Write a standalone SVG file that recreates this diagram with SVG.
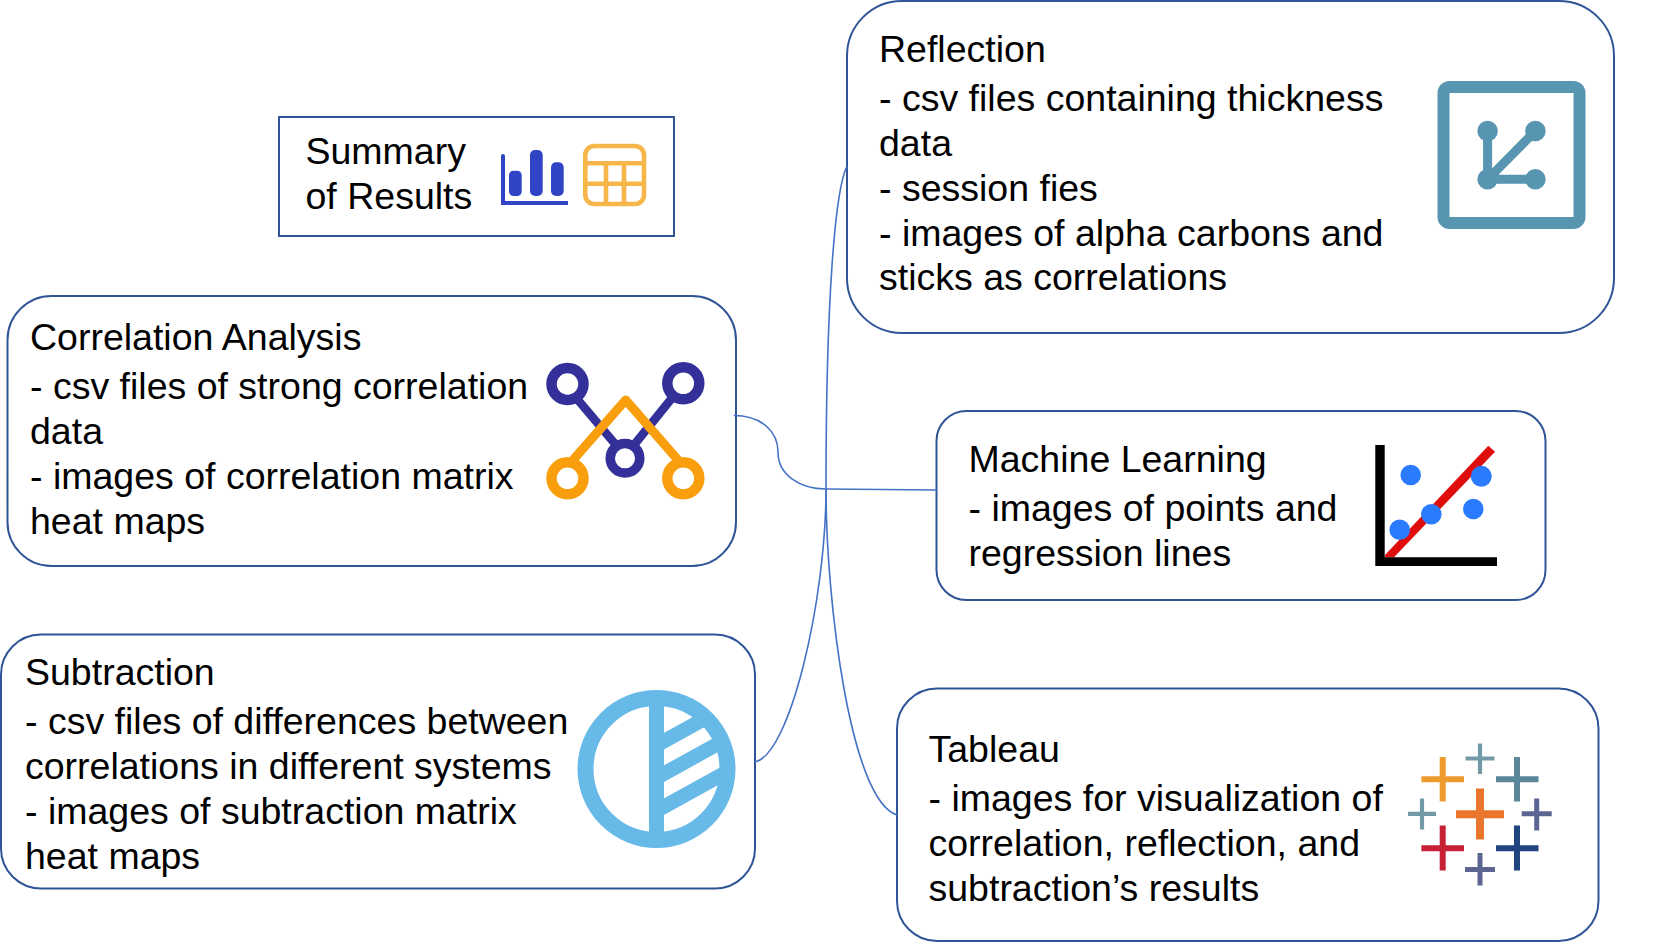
<svg xmlns="http://www.w3.org/2000/svg" width="1666" height="944" viewBox="0 0 1666 944">
<style>
.box{fill:#fff;stroke:#2F5597;stroke-width:2}
.t{font-family:"Liberation Sans",Arial,sans-serif;font-size:37.5px;fill:#000}
.c{fill:none;stroke:#4472C4;stroke-width:1.6}
.blue{fill:none;stroke:#343099}
.or{fill:none;stroke:#F99F0E}
</style>
<defs>
<clipPath id="sub"><circle cx="656.500" cy="769" r="72"/></clipPath>
</defs>
<rect width="1666" height="944" fill="#fff"/>
<g id="summary">
<rect class="box" x="279" y="117" width="395" height="119"/>
<text class="t" x="305.500" y="164">Summary</text>
<text class="t" x="305.500" y="209">of Results</text>
<g fill="#2F45C5">
<path d="M501 156a2 2 0 0 1 4 0V201H568V205H501Z"/>
<rect x="509" y="170.700" width="12.700" height="25.300" rx="4.500"/>
<rect x="530" y="150" width="12.700" height="46" rx="5"/>
<rect x="551" y="162.300" width="12.700" height="33.700" rx="5"/>
</g>
<g fill="none" stroke="#F7B64A" stroke-width="4.600">
<rect x="585.300" y="146" width="58.700" height="58" rx="9"/>
<path d="M585 163.300H644M585 183.700H644M606 163.300V204M624 163.300V204"/>
</g>
</g>
<g id="correlation">
<rect class="box" x="7.500" y="296" width="728.500" height="270" rx="44"/>
<text class="t" x="30" y="350">Correlation Analysis</text>
<text class="t" x="30" y="399">- csv files of strong correlation</text>
<text class="t" x="30" y="444">data</text>
<text class="t" x="30" y="489">- images of correlation matrix</text>
<text class="t" x="30" y="534">heat maps</text>
<path class="blue" stroke-width="8.500" d="M578 400L616 445M672 398L634 445"/>
<circle class="blue" stroke-width="10.500" cx="567.500" cy="384" r="16"/>
<circle class="blue" stroke-width="10.500" cx="683.300" cy="383.300" r="16"/>
<circle class="blue" stroke-width="9.500" cx="625" cy="458.300" r="14.800"/>
<path class="or" stroke-width="9" stroke-linejoin="round" d="M573 460L625.700 400L678 460"/>
<circle class="or" stroke-width="10.500" cx="567.500" cy="478.300" r="16"/>
<circle class="or" stroke-width="10.500" cx="683.300" cy="478.300" r="16"/>
</g>
<g id="subtraction">
<rect class="box" x="1" y="634.500" width="754" height="254" rx="40"/>
<text class="t" x="25" y="685">Subtraction</text>
<text class="t" x="25" y="734">- csv files of differences between</text>
<text class="t" x="25" y="779">correlations in different systems</text>
<text class="t" x="25" y="824">- images of subtraction matrix</text>
<text class="t" x="25" y="869">heat maps</text>
<circle cx="656.500" cy="769" r="71" fill="none" stroke="#67B9E8" stroke-width="16"/>
<rect x="649" y="695" width="15" height="150" fill="#67B9E8"/>
<g clip-path="url(#sub)" stroke="#67B9E8" stroke-width="14.500">
<path d="M660 743.300L735 702M660 775.800L735 734.500M660 808.800L735 767.500"/>
</g>
</g>
<g id="reflection">
<rect class="box" x="847" y="1" width="767" height="332" rx="55"/>
<text class="t" x="879" y="62">Reflection</text>
<text class="t" x="879" y="110.700">- csv files containing thickness</text>
<text class="t" x="879" y="155.500">data</text>
<text class="t" x="879" y="200.500">- session fies</text>
<text class="t" x="879" y="245.500">- images of alpha carbons and</text>
<text class="t" x="879" y="290">sticks as correlations</text>
<rect x="1443.500" y="87" width="136" height="136" rx="6" fill="none" stroke="#5895B0" stroke-width="12"/>
<path d="M1487.600 131V179.300H1535.400M1487.600 179.300L1535.400 131" fill="none" stroke="#5895B0" stroke-width="9"/>
<g fill="#5895B0">
<circle cx="1487.600" cy="131" r="10.300"/>
<circle cx="1535.400" cy="131" r="10.300"/>
<circle cx="1487.600" cy="179.300" r="10.300"/>
<circle cx="1535.400" cy="179.300" r="10.300"/>
</g>
</g>
<g id="machine-learning">
<rect class="box" x="936.500" y="411" width="609" height="189" rx="30"/>
<text class="t" x="968.500" y="472">Machine Learning</text>
<text class="t" x="968.500" y="521">- images of points and</text>
<text class="t" x="968.500" y="566">regression lines</text>
<path d="M1385 555L1488.300 445.700L1495 451.700L1394 557.300H1385Z" fill="#E00D0D"/>
<path d="M1375.300 445H1384.700V557.300H1497V566H1375.300Z" fill="#000"/>
<g fill="#2B7BFF">
<circle cx="1410.700" cy="475" r="10.300"/>
<circle cx="1481.300" cy="476.300" r="10.500"/>
<circle cx="1473.300" cy="509" r="10.300"/>
<circle cx="1431.300" cy="514.300" r="10.300"/>
<circle cx="1399.700" cy="529.700" r="10.300"/>
</g>
</g>
<g id="tableau">
<rect class="box" x="897" y="688.500" width="701.500" height="252.500" rx="40"/>
<text class="t" x="928.500" y="762">Tableau</text>
<text class="t" x="928.500" y="811">- images for visualization of</text>
<text class="t" x="928.500" y="856">correlation, reflection, and</text>
<text class="t" x="928.500" y="901">subtraction’s results</text>
<path d="M1442.700 757V801.500M1421.400 779.200H1464" fill="none" stroke="#EE9A2C" stroke-width="6"/>
<path d="M1480 743.500V774M1465.500 758.500H1494.500" fill="none" stroke="#7299A6" stroke-width="4.200"/>
<path d="M1517 757V801.500M1496 779.200H1538.500" fill="none" stroke="#5B879B" stroke-width="6"/>
<path d="M1422 798.500V829.500M1408 813.800H1436" fill="none" stroke="#7299A6" stroke-width="4.200"/>
<path d="M1480 788.500V839.500M1456 814.200H1504" fill="none" stroke="#E9762B" stroke-width="8"/>
<path d="M1536.700 798.500V830.500M1521.700 813.800H1551.700" fill="none" stroke="#5B6591" stroke-width="5"/>
<path d="M1442.700 825.500V870.500M1421.400 848.200H1464" fill="none" stroke="#C72037" stroke-width="6"/>
<path d="M1517 825.500V870.500M1496 848.200H1538.500" fill="none" stroke="#1F447E" stroke-width="6"/>
<path d="M1480 853V885.500M1465 869.500H1495" fill="none" stroke="#5B6591" stroke-width="5"/>
</g>
<g id="connectors">
<path class="c" d="M847 166C835 190 826 300 826 489"/>
<path class="c" d="M733.800 415.500C762 415.500 778 432 778 452C778 475 800 489 826 489"/>
<path class="c" d="M826 489L937 490"/>
<path class="c" d="M755 762C790 755 826 600 826 489"/>
<path class="c" d="M826 489C826 600 850 800 897 815"/>
</g>
</svg>
